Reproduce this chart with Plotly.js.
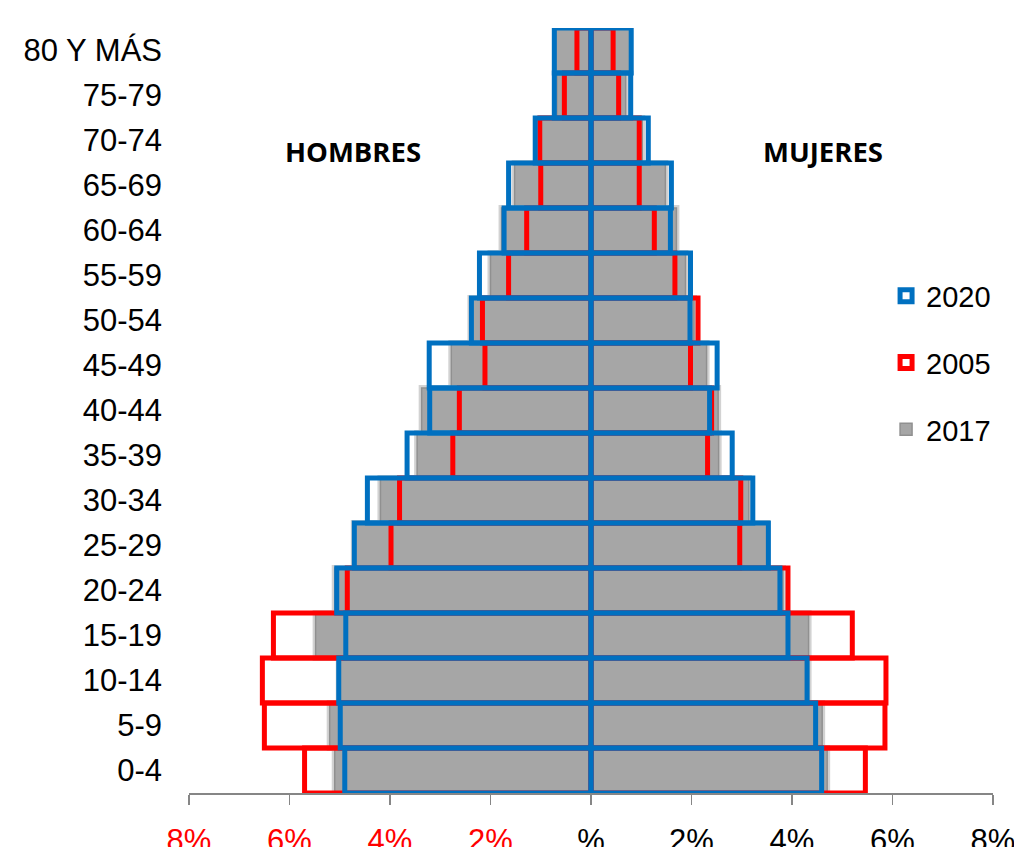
<!DOCTYPE html>
<html>
<head>
<meta charset="utf-8">
<script src="https://cdn.plot.ly/plotly-3.0.1.min.js"></script>
<style>html,body{margin:0;padding:0;background:#fff;}#chart{width:1014px;height:847px;}</style>
</head>
<body>
<div id="chart"></div>
<script>
// Age groups, bottom to top
const ages = ["0-4","5-9","10-14","15-19","20-24","25-29","30-34","35-39","40-44","45-49","50-54","55-59","60-64","65-69","70-74","75-79","80 Y MÁS"];

// Percent of population (men shown to the left)
const men2020   = [4.90,4.99,5.02,4.88,5.06,4.71,4.45,3.66,3.21,3.22,2.38,2.22,1.73,1.64,1.11,0.73,0.73];
const women2020 = [4.59,4.47,4.30,3.92,3.76,3.53,3.22,2.81,2.36,2.51,1.97,1.98,1.58,1.60,1.14,0.79,0.80];
const men2005   = [5.70,6.50,6.54,6.32,4.85,3.98,3.81,2.75,2.62,2.11,2.16,1.64,1.28,1.00,1.02,0.53,0.28];
const women2005 = [5.46,5.85,5.87,5.20,3.92,2.96,2.98,2.32,2.40,1.98,2.13,1.67,1.26,0.96,0.96,0.55,0.44];
const men2017   = [5.10,5.20,5.02,5.48,5.10,4.72,4.19,3.46,3.37,2.78,2.40,2.00,1.78,1.52,0.99,0.68,0.70];
const women2017 = [4.70,4.60,4.33,4.33,3.82,3.50,3.14,2.54,2.53,2.30,2.05,1.88,1.70,1.48,1.02,0.69,0.78];

const xTickVals = [-8,-6,-4,-2,0,2,4,6,8];
const xTickLabels = ["8%","6%","4%","2%","%","2%","4%","6%","8%"];

const sideLabels = ["HOMBRES","MUJERES"];

const FONT = "Liberation Sans, Arial, sans-serif";

function pyramidX(men, women){ return men.map(v => -v).concat(women); }
const yAll = ages.concat(ages);

const traces = [
  { // soft shadow of 2017 bars
    type:"bar", orientation:"h", y:yAll, x:pyramidX(men2017, women2017),
    marker:{color:"rgba(0,0,0,0)", line:{color:"#d2d2d2", width:6}},
    showlegend:false, hoverinfo:"skip"
  },
  {
    type:"bar", orientation:"h", name:"2017", y:yAll, x:pyramidX(men2017, women2017),
    marker:{color:"#a6a6a6", line:{color:"#909090", width:1.5}},
    legendrank:3, legendgroup:"g2017"
  },
  {
    type:"bar", orientation:"h", name:"2005", y:yAll, x:pyramidX(men2005, women2005),
    marker:{color:"rgba(255,255,255,0)", line:{color:"#ff0000", width:5}},
    legendrank:2, legendgroup:"g2005"
  },
  {
    type:"bar", orientation:"h", name:"2020", y:yAll, x:pyramidX(men2020, women2020),
    marker:{color:"rgba(255,255,255,0)", line:{color:"#0070c0", width:5}},
    legendrank:1, legendgroup:"g2020"
  }
];

const tickText = xTickLabels.map((t,i) => xTickVals[i] < 0 ? '<span style="color:#ff0000">'+t+'</span>' : t);
const centers = ages.map((a,i)=>i);
const bounds = ages.map((a,i)=>i-0.5).concat([ages.length-0.5]);
const yRange = [-0.5, ages.length-0.5];

const layout = {
  width:1014, height:847,
  margin:{l:189, r:21, t:28, b:54},
  paper_bgcolor:"#fff", plot_bgcolor:"#fff",
  barmode:"overlay", bargap:0,
  font:{family:FONT, color:"#000"},
  xaxis:{
    range:[-8,8], showgrid:false, zeroline:false,
    showline:true, linecolor:"#868686", linewidth:1.5,
    ticks:"outside", ticklen:10, tickwidth:1.5, tickcolor:"#868686",
    tickmode:"array", tickvals:xTickVals, ticktext:tickText,
    tickfont:{family:FONT, size:31, color:"#000"}, ticklabelstandoff:9,
    ticklabeloverflow:"allow"
  },
  yaxis:{
    type:"category", categoryorder:"array", categoryarray:ages, range:yRange,
    showgrid:false, zeroline:false, showline:false, ticks:"",
    tickfont:{family:FONT, size:31, color:"#000"}, ticklabelstandoff:26
  },
  yaxis2:{
    overlaying:"y", anchor:"free", position:0.5, side:"left", range:yRange,
    showgrid:false, zeroline:false, showline:true, linecolor:"#000", linewidth:2,
    ticks:"inside", ticklen:7, tickwidth:1.5, tickcolor:"#000",
    tickmode:"array", tickvals:centers, showticklabels:false, layer:"above traces"
  },
  yaxis3:{
    overlaying:"y", anchor:"free", position:0.5, side:"left", range:yRange,
    showgrid:false, zeroline:false, showline:false,
    ticks:"outside", ticklen:10, tickwidth:1.5, tickcolor:"#000",
    tickmode:"array", tickvals:bounds, showticklabels:false, layer:"above traces"
  },
  legend:{
    x:0.867, y:0.683, xanchor:"left", yanchor:"top",
    font:{family:FONT, size:29, color:"#000"},
    tracegroupgap:26, bgcolor:"rgba(0,0,0,0)"
  },
  annotations:[
    {text:"<b>"+sideLabels[0]+"</b>", xref:"paper", yref:"paper", x:0.204, y:0.838,
     xanchor:"center", yanchor:"middle", showarrow:false,
     font:{family:"Open Sans, sans-serif", size:27.5, color:"#000"}},
    {text:"<b>"+sideLabels[1]+"</b>", xref:"paper", yref:"paper", x:0.789, y:0.838,
     xanchor:"center", yanchor:"middle", showarrow:false,
     font:{family:"Open Sans, sans-serif", size:27.5, color:"#000"}}
  ],
  showlegend:true
};

Plotly.newPlot("chart", traces, layout, {displayModeBar:false, staticPlot:true});
</script>
</body>
</html>
